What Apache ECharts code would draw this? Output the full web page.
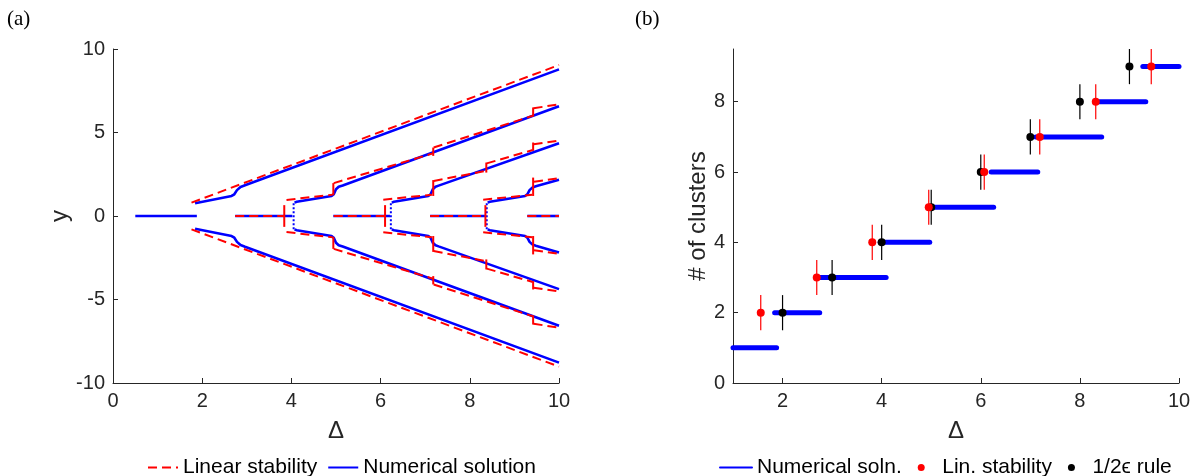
<!DOCTYPE html>
<html><head><meta charset="utf-8">
<script src="https://cdn.jsdelivr.net/npm/echarts@6/dist/echarts.min.js"></script>
<style>html,body{margin:0;padding:0;background:#fff}#c{width:1194px;height:476px}</style>
</head><body><div id="c"></div><script>
// ---------- Panel (a): bifurcation diagram ----------
// Numerical solution: zero branches (Δ ranges, y = 0)
const numZero = [[0.5,1.88],[2.74,4.02],[4.94,6.21],[7.11,8.34],[9.29,10]];
// vertical dotted connectors of numerical solution [Δ, yLow, yHigh]
const numDotted = [[4.05,-0.8,0.8],[6.23,-0.8,0.8],[8.38,-0.8,0.8]];
// Numerical solution: non-zero branches
const numUpper1 = [[1.84,0.76],[2.66,1.2],[2.72,1.3],[2.78,1.55],[2.86,1.74],[2.96,1.84],[10,8.78]];
const numUpper2 = [[4.07,0.8],[4.12,0.85],[4.90,1.2],[4.95,1.3],[5.0,1.6],[5.06,1.75],[5.15,1.83],[10,6.57]];
const numUpper3 = [[6.25,0.8],[6.3,0.85],[7.07,1.2],[7.12,1.3],[7.17,1.6],[7.23,1.75],[7.3,1.82],[10,4.36]];
const numUpper4 = [[8.40,0.8],[8.45,0.85],[9.24,1.2],[9.29,1.3],[9.34,1.55],[9.40,1.7],[9.48,1.78],[10,2.17]];
const numLower1 = [[1.84,-0.76],[2.66,-1.2],[2.72,-1.3],[2.78,-1.55],[2.86,-1.74],[2.96,-1.84],[10,-8.78]];
const numLower2 = [[4.07,-0.8],[4.12,-0.85],[4.90,-1.2],[4.95,-1.3],[5.0,-1.6],[5.06,-1.75],[5.15,-1.83],[10,-6.57]];
const numLower3 = [[6.25,-0.8],[6.3,-0.85],[7.07,-1.2],[7.12,-1.3],[7.17,-1.6],[7.23,-1.75],[7.3,-1.82],[10,-4.38]];
const numLower4 = [[8.40,-0.8],[8.45,-0.85],[9.24,-1.2],[9.29,-1.3],[9.34,-1.55],[9.40,-1.7],[9.48,-1.78],[10,-2.19]];

// Linear stability: zero branches (Δ ranges, y = 0)
const linZero = [[2.74,3.84],[4.95,6.1],[7.11,8.34],[9.29,10]];
// Linear stability: branch segments
const linUpper1 = [[1.76,0.80],[10,9.04]];
const linUpper2 = [[[3.89,0.96],[4.93,1.28]],[[4.95,1.97],[7.17,3.75]],[[7.19,4.1],[9.41,6.0]],[[9.43,6.45],[10,6.69]]];
const linUpper3 = [[[6.06,0.98],[7.15,1.27]],[[7.19,2.1],[8.36,2.7]],[[8.38,3.15],[9.41,3.95]],[[9.43,4.3],[10,4.52]]];
const linUpper4 = [[[8.30,0.98],[9.40,1.27]],[[9.44,2.05],[10,2.27]]];
const linLower1 = [[1.76,-0.80],[10,-9.02]];
const linLower2 = [[[3.89,-0.96],[4.93,-1.28]],[[4.95,-1.97],[7.17,-3.75]],[[7.19,-4.1],[9.41,-6.0]],[[9.43,-6.45],[10,-6.69]]];
const linLower3 = [[[6.06,-0.98],[7.15,-1.27]],[[7.19,-2.1],[8.36,-2.7]],[[8.38,-3.15],[9.41,-3.95]],[[9.43,-4.3],[10,-4.52]]];
const linLower4 = [[[8.30,-0.98],[9.40,-1.27]],[[9.44,-2.05],[10,-2.27]]];
// Linear stability: vertical marks at transitions [Δ, yLow, yHigh]
const linTicks = [[3.84,-0.65,0.65],[6.1,-0.65,0.65],[8.35,-0.65,0.65],
  [4.94,1.25,1.97],[7.18,3.6,4.1],[9.42,5.95,6.5],[7.18,1.2,2.15],[8.37,2.6,3.2],[9.42,3.9,4.4],[9.42,1.2,2.3],
  [4.94,-1.97,-1.25],[7.18,-4.1,-3.6],[9.42,-6.5,-5.95],[7.18,-2.15,-1.2],[8.37,-3.2,-2.6],[9.42,-4.4,-3.9],[9.42,-2.3,-1.2]];

const xTicksA = [0,2,4,6,8,10];
const yTicksA = [-10,-5,0,5,10];

// ---------- Panel (b): number of clusters ----------
const clusters   = [1,2,3,4,5,6,7,8,9];
const numStart   = [1.0,1.84,2.69,3.97,4.95,6.21,7.11,8.38,9.27];
const numEnd     = [1.88,2.75,4.09,4.97,6.26,7.15,8.44,9.33,10.0];
const linN       = [2,3,4,5,6,7,8,9];
const linDelta   = [1.56,2.69,3.81,4.95,6.07,7.19,8.32,9.44];
const ruleN      = [2,3,4,5,6,7,8,9];
const ruleDelta  = [2,3,4,5,6,7,8,9];
const xTicksB = [2,4,6,8,10];
const yTicksB = [0,2,4,6,8];

const BLUE = '#0000ff', RED = '#ff0000', AX = '#262626';
const FONT = 'Liberation Sans';
const TICKFS = 20;
const series = [];

function line(data, name, color, width, type, gi, extra) {
  series.push(Object.assign({
    type: 'line', name: name, xAxisIndex: gi, yAxisIndex: gi, data: data,
    symbol: 'none', silent: true, clip: false,
    lineStyle: { color: color, width: width, type: type },
    itemStyle: { color: color }
  }, extra || {}));
}
// Numerical solution (blue)
numZero.forEach(r => line([[r[0],0],[r[1],0]], 'Numerical solution', BLUE, 2.6, 'solid', 0));
[numUpper1,numUpper2,numUpper3,numUpper4,numLower1,numLower2,numLower3,numLower4]
  .forEach(d => line(d, 'Numerical solution', BLUE, 2.6, 'solid', 0));
numDotted.forEach(r => line([[r[0],r[1]],[r[0],r[2]]], 'Numerical solution', BLUE, 2, [2,2], 0));
// Linear stability (red dashed)
const dash = [9,5];
line(linUpper1, 'Linear stability', RED, 2, dash, 0);
line(linLower1, 'Linear stability', RED, 2, dash, 0);
linZero.forEach(r => line([[r[0],0],[r[1],0]], 'Linear stability', RED, 2, dash, 0));
[linUpper2,linUpper3,linUpper4,linLower2,linLower3,linLower4]
  .forEach(segs => segs.forEach(s => line(s, 'Linear stability', RED, 2, dash, 0)));
linTicks.forEach(t => line([[t[0],t[1]],[t[0],t[2]]], 'Linear stability', RED, 2, 'solid', 0));

// Panel (b)
clusters.forEach((n,i) => line([[numStart[i],n],[numEnd[i],n]], 'Numerical soln.', BLUE, 5, 'solid', 1,
  { lineStyle: { color: BLUE, width: 5, cap: 'round' } }));
ruleN.forEach((n,i) => line([[ruleDelta[i],n-0.5],[ruleDelta[i],n+0.5]], 'rule-err', '#000', 1.2, 'solid', 1, { z: 3 }));
series.push({ type: 'scatter', name: '1/2\u03F5 rule', xAxisIndex: 1, yAxisIndex: 1, symbolSize: 8, z: 4,
  itemStyle: { color: '#000', opacity: 1 }, data: ruleN.map((n,i) => [ruleDelta[i], n]), silent: true, clip: false });
linN.forEach((n,i) => line([[linDelta[i],n-0.5],[linDelta[i],n+0.5]], 'lin-err', RED, 1.2, 'solid', 1, { z: 5 }));
series.push({ type: 'scatter', name: 'Lin. stability', xAxisIndex: 1, yAxisIndex: 1, symbolSize: 8, z: 6,
  itemStyle: { color: RED, opacity: 1 }, data: linN.map((n,i) => [linDelta[i], n]), silent: true, clip: false });

function axis(opts, ticks) {
  return Object.assign({
    type: 'value', splitLine: { show: false },
    axisLine: { show: true, onZero: false, lineStyle: { color: AX, width: 1 } },
    axisTick: { show: true, inside: true, length: 5, lineStyle: { color: AX }, customValues: ticks },
    axisLabel: { color: AX, fontSize: TICKFS, fontFamily: FONT, margin: 8, customValues: ticks },
    nameLocation: 'middle',
    nameTextStyle: { color: AX, fontSize: 24, fontFamily: FONT }
  }, opts);
}

const chart = echarts.init(document.getElementById('c'), null, { renderer: 'canvas' });
const hide = { opacity: 0 };
chart.setOption({
  animation: false,
  backgroundColor: '#fff',
  textStyle: { fontFamily: FONT },
  graphic: [
    { type: 'text', left: 7, top: 9, style: { text: '(a)', fontSize: 21, fontFamily: 'Liberation Serif', fill: '#000' } },
    { type: 'text', left: 635, top: 9, style: { text: '(b)', fontSize: 21, fontFamily: 'Liberation Serif', fill: '#000' } }
  ],
  grid: [
    { left: 113, right: 635, top: 49, bottom: 93 },
    { left: 733, right: 15, top: 49, bottom: 93 }
  ],
  xAxis: [
    axis({ gridIndex: 0, min: 0, max: 10, name: '\u0394', nameGap: 36 }, xTicksA),
    axis({ gridIndex: 1, min: 1, max: 10, name: '\u0394', nameGap: 36 }, xTicksB)
  ],
  yAxis: [
    axis({ gridIndex: 0, min: -10, max: 10, name: 'y', nameGap: 41 }, yTicksA),
    axis({ gridIndex: 1, min: 0, max: 9.5, name: '# of clusters', nameGap: 18 }, yTicksB)
  ],
  legend: [
    { data: [{ name: 'Linear stability', itemStyle: hide }, { name: 'Numerical solution', itemStyle: hide }],
      left: 142, top: 452, itemWidth: 30, itemHeight: 8, itemGap: 10,
      textStyle: { fontSize: 21, color: '#000', fontFamily: FONT } },
    { data: [{ name: 'Numerical soln.', itemStyle: hide, lineStyle: { width: 2 } }, 'Lin. stability', '1/2\u03F5 rule'],
      left: 714, top: 452, itemWidth: 32, itemHeight: 7, itemGap: 16,
      textStyle: { fontSize: 21, color: '#000', fontFamily: FONT } }
  ],
  series: series
});
</script></body></html>
